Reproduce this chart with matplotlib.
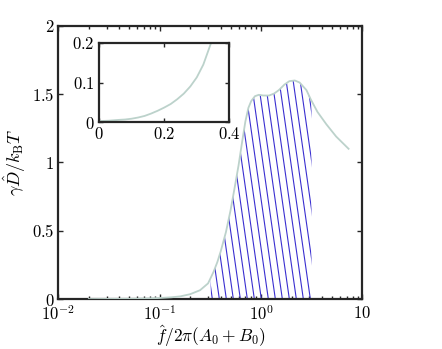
import numpy as np
import matplotlib
matplotlib.use('Agg')
from matplotlib import pyplot as plt
from matplotlib.collections import LineCollection

plt.rcParams['mathtext.fontset'] = 'cm'
plt.rcParams['font.family'] = 'serif'
plt.rcParams['font.serif'] = ['DejaVu Serif']

# main curve
freq = [0.02, 0.03, 0.05, 0.07, 0.1, 0.13, 0.16, 0.2, 0.25, 0.3, 0.34, 0.37,
        0.4, 0.45, 0.5, 0.55, 0.6, 0.65, 0.7, 0.75, 0.8, 0.87, 0.95, 1.05,
        1.2, 1.35, 1.5, 1.7, 1.9, 2.15, 2.4, 2.8, 3.1, 3.6, 4.4, 5.5, 7.3]
diff = [0.000, 0.001, 0.002, 0.004, 0.008, 0.013, 0.020, 0.036, 0.065, 0.115,
        0.20, 0.27, 0.35, 0.49, 0.65, 0.82, 0.98, 1.15, 1.30, 1.40, 1.45,
        1.485, 1.495, 1.49, 1.49, 1.505, 1.53, 1.57, 1.595, 1.60, 1.585,
        1.53, 1.46, 1.37, 1.28, 1.19, 1.10]

# inset (linear scale)
inset_x = [0.0, 0.03, 0.06, 0.08, 0.1, 0.12, 0.14, 0.16, 0.18, 0.2, 0.22,
           0.24, 0.26, 0.28, 0.3, 0.32, 0.344]
inset_y = [0.003, 0.004, 0.006, 0.007, 0.009, 0.012, 0.016, 0.022, 0.029,
           0.037, 0.046, 0.058, 0.072, 0.090, 0.113, 0.145, 0.20]

shade_lo = 1 / np.pi
shade_hi = np.pi

curve_col = '#bcd2cb'
hatch_col = '#3a2fd0'

fig = plt.figure(figsize=(4.42, 3.49), dpi=100)
ax = fig.add_axes([0.132, 0.143, 0.688, 0.783])

ax.plot(freq, diff, color=curve_col, lw=1.3, zorder=3)
ax.set_xscale('log')
ax.set_xlim(1e-2, 10)
ax.set_ylim(0, 2)

# hatched region between 1/pi and pi
f = np.array(freq)
d = np.array(diff)
inside = (f > shade_lo) & (f < shade_hi)
lo_y = np.interp(np.log(shade_lo), np.log(f), d)
hi_y = np.interp(np.log(shade_hi), np.log(f), d)
px = np.concatenate([[shade_lo, shade_lo], f[inside], [shade_hi, shade_hi]])
py = np.concatenate([[0, lo_y], d[inside], [hi_y, 0]])
patch = ax.fill(px, py, facecolor='none', edgecolor='none')[0]

w_px, h_px = 0.688 * 442, 0.783 * 349
step = 7.0 / w_px
slope = 7.0
segs = []
for c in np.arange(0, 1.3, step):
    segs.append([(c, 0), (c - (h_px / w_px) / slope, 1)])
lc = LineCollection(segs, colors=hatch_col, linewidths=0.8,
                    transform=ax.transAxes, zorder=2)
ax.add_collection(lc)
lc.set_clip_path(patch)

ax.set_xticks([1e-2, 1e-1, 1, 10])
ax.set_xticklabels([r'$10^{-2}$', r'$10^{-1}$', r'$10^{0}$', r'$10$'])
ax.set_yticks([0, 0.5, 1, 1.5, 2])
ax.set_yticklabels([r'$0$', r'$0.5$', r'$1$', r'$1.5$', r'$2$'])
ax.tick_params(which='both', direction='in', top=True, right=True,
               labelsize=12, width=1.0, color='#262626')
ax.tick_params(which='major', length=3.5, pad=3)
ax.tick_params(axis='x', which='major', pad=4.5)
ax.tick_params(which='minor', length=2.2)
for s in ax.spines.values():
    s.set_linewidth(1.6)
    s.set_color('#262626')

ax.set_xlabel(r'$\hat{f}/2\pi(A_0+B_0)$', fontsize=12.5, labelpad=-0.5)
ax.set_ylabel(r'$\gamma\hat{D}/k_\mathrm{B}T$', fontsize=13, labelpad=3)

# inset
ins = fig.add_axes([0.224, 0.6496, 0.295, 0.228])
ins.plot(inset_x, inset_y, color=curve_col, lw=1.3)
ins.set_xlim(0, 0.4)
ins.set_ylim(0, 0.2)
ins.set_xticks([0, 0.2, 0.4])
ins.set_xticklabels([r'$0$', r'$0.2$', r'$0.4$'])
ins.set_yticks([0, 0.1, 0.2])
ins.set_yticklabels([r'$0$', r'$0.1$', r'$0.2$'])
ins.tick_params(direction='in', top=True, right=True, labelsize=12,
                length=3, width=1.0, pad=3, color='#262626')
for s in ins.spines.values():
    s.set_linewidth(1.6)
    s.set_color('#262626')

fig.savefig('out.png', dpi=100)
